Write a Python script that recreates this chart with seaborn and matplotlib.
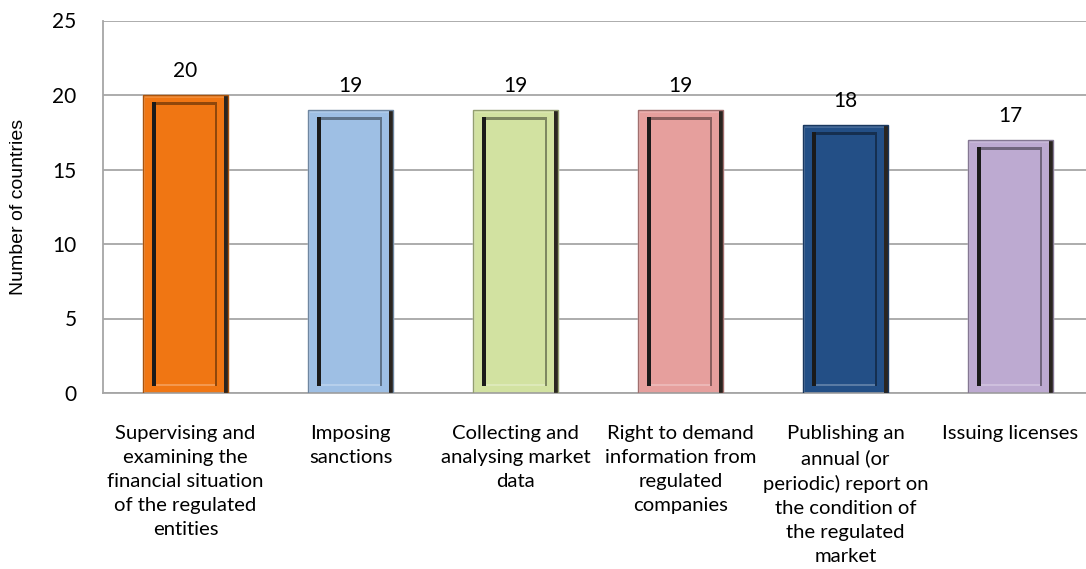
import numpy as np
import pandas as pd
import matplotlib
matplotlib.use("Agg")
import matplotlib.pyplot as plt
import matplotlib.colors as mcolors
from matplotlib.patches import Rectangle
import seaborn as sns

# --- Daten ---
CATEGORIES = [
    "Supervising and\nexamining the\nfinancial situation\nof the regulated\nentities",
    "Imposing\nsanctions",
    "Collecting and\nanalysing market\ndata",
    "Right to demand\ninformation from\nregulated\ncompanies",
    "Publishing an\nannual (or\nperiodic) report on\nthe condition of\nthe regulated\nmarket",
    "Issuing licenses",
]
COUNTRIES = [20, 19, 19, 19, 18, 17]
BAR_COLORS = ["#F07613", "#9EBFE4", "#D2E2A1", "#E69F9D", "#234F86", "#BDAAD1"]
Y_TICKS = [0, 5, 10, 15, 20, 25]
Y_LABEL = "Number of countries"

GRID = "#A6A6A6"


def shade(color, f):
    """f<1 dunkler, f>1 heller (Richtung weiss)"""
    rgb = np.array(mcolors.to_rgb(color))
    if f <= 1:
        return tuple(rgb * f)
    return tuple(rgb + (1 - rgb) * (f - 1))


def bevel(ax, bar, color, px, py):
    # Excel-artiger "Bilderrahmen"-Effekt, alles aus der Balkengeometrie abgeleitet
    x, w, h = bar.get_x(), bar.get_width(), bar.get_height()
    kw = dict(linewidth=0, zorder=3)
    # aussen: heller Rand oben, dunkler Schatten rechts, Rahmenlinie
    ax.add_patch(Rectangle((x, h - 3 * py), w, 3 * py, facecolor=shade(color, 1.15), **kw))
    ax.add_patch(Rectangle((x + w - 4 * px, 0), 4 * px, h, facecolor="#2A2520", **kw))
    ax.add_patch(Rectangle((x, 0), w, h, facecolor="none",
                           edgecolor=shade(color, 0.7), linewidth=1.0, zorder=3))
    # innerer Rahmen
    ix0, ix1 = x + 9 * px, x + w - 13 * px
    iy0, iy1 = 9 * py, h - 10 * py
    ax.add_patch(Rectangle((ix0, iy1), ix1 - ix0, 3 * py, facecolor=shade(color, 0.6), **kw))
    ax.add_patch(Rectangle((ix0, iy0 - 2 * py), ix1 - ix0, 2 * py, facecolor=shade(color, 1.25), **kw))
    ax.add_patch(Rectangle((ix1, iy0 - 2 * py), 2 * px, iy1 - iy0 + 5 * py, facecolor=shade(color, 0.6), **kw))
    ax.add_patch(Rectangle((ix0, iy0 - 2 * py), 4 * px, iy1 - iy0 + 5 * py, facecolor="#1A1A1A", **kw))


sns.set_theme(style="white")
plt.rcParams["font.family"] = ["Lato", "DejaVu Sans"]

df = pd.DataFrame({"task": CATEGORIES, "n": COUNTRIES})

fig = plt.figure(figsize=(10.86, 5.69), dpi=100)
ax = fig.add_axes([103 / 1086, 1 - 393 / 569, 990 / 1086, 372.5 / 569])

sns.barplot(data=df, x="task", y="n", hue="task", palette=BAR_COLORS,
            legend=False, width=0.51, saturation=1, ax=ax, zorder=2)

ax.set_xlim(-0.5, len(CATEGORIES) - 0.5)
ax.set_ylim(0, 25)
ax.set_yticks(Y_TICKS)
ax.yaxis.grid(True, color=GRID, linewidth=1.3, zorder=0)
ax.set_axisbelow(True)

# Pixelgroesse in Dateneinheiten
px = len(CATEGORIES) / 990
py = 25 / 372.5
for bar, c in zip(ax.patches, BAR_COLORS):
    bevel(ax, bar, c, px, py)

for i, v in enumerate(COUNTRIES):
    ax.annotate(str(v), (i, v), xytext=(0, 10), textcoords="offset points",
                ha="center", va="bottom", fontsize=15, color="black")

for s in ["top", "right"]:
    ax.spines[s].set_visible(False)
for s in ["left", "bottom"]:
    ax.spines[s].set_color(GRID)
    ax.spines[s].set_linewidth(1.3)

# x-Ticks an den Kategoriegrenzen
ax.set_xticks(np.arange(len(CATEGORIES)))
ax.set_xticklabels(CATEGORIES, fontsize=14.6, linespacing=1.5, va="top", color="black")
ax.tick_params(axis="x", length=0, pad=23)
ax.set_xticks(np.arange(len(CATEGORIES) + 1) - 0.5, minor=True)
ax.tick_params(axis="x", which="minor", length=6, width=1.3, color=GRID, direction="out")
ax.tick_params(axis="y", length=6, width=1.3, color=GRID, direction="out",
               labelsize=15, pad=13, labelcolor="black")

ax.set_xlabel("")
ax.set_ylabel(Y_LABEL, fontsize=14, labelpad=18, family="Liberation Sans", color="black")

fig.savefig("out.png", dpi=100)
